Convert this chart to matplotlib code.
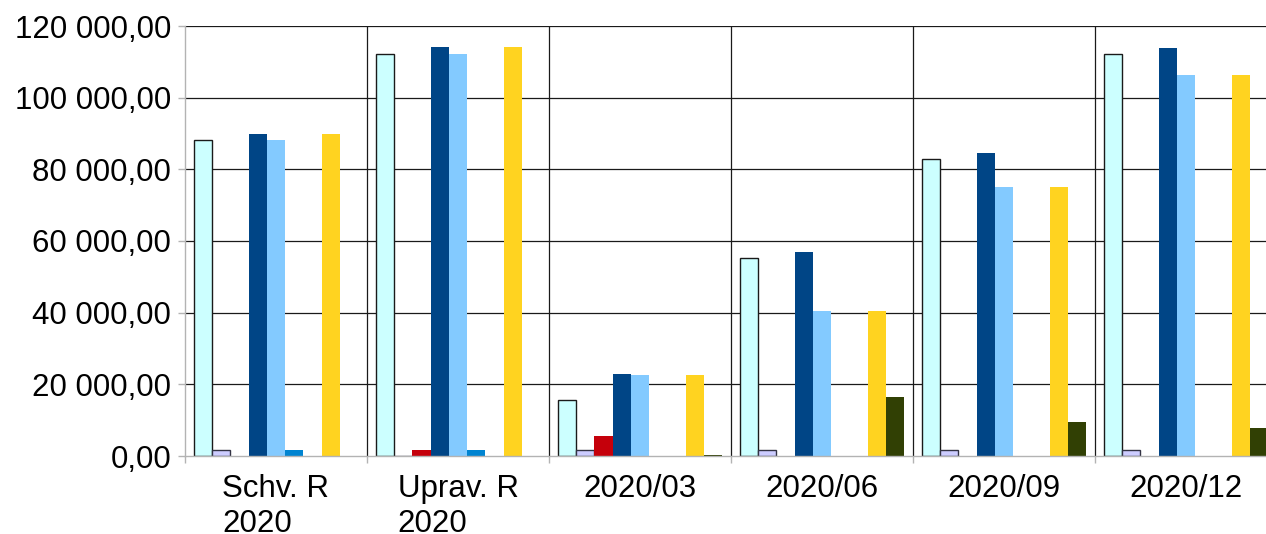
import numpy as np
import matplotlib.pyplot as plt
from matplotlib.ticker import FuncFormatter

plt.rcParams['font.family'] = ['Liberation Sans', 'DejaVu Sans']

# Données
kategorie = ["Schv. R\n2020", "Uprav. R\n2020", "2020/03", "2020/06", "2020/09", "2020/12"]

rada1 = [88200, 112200, 15600, 55300, 82800, 112200]   # tyrkysová (s okrajem)
rada2 = [1700, 0, 1700, 1700, 1700, 1700]               # levandulová
rada3 = [0, 1700, 5600, 0, 0, 0]                        # červená
rada4 = [89900, 114100, 22900, 56900, 84600, 113900]    # tmavě modrá
rada5 = [88200, 112200, 22600, 40500, 75100, 106300]    # světle modrá
rada6 = [1700, 1700, 0, 0, 0, 0]                        # modrá
rada7 = [0, 0, 0, 0, 0, 0]                              # prázdná řada
rada8 = [89900, 114100, 22600, 40500, 75100, 106300]    # žlutá
rada9 = [0, 0, 300, 16500, 9500, 7800]                  # tmavě zelená

rady = [rada1, rada2, rada3, rada4, rada5, rada6, rada7, rada8, rada9]
barvy = ['#ccffff', '#ccccff', '#c5000b', '#004586', '#83caff',
         '#0084d1', '#ff950e', '#ffd320', '#314004']
okraje = ['#1a1a1a', '#333344', None, None, None, None, None, None, None]

fig = plt.figure(figsize=(12.66, 5.34), dpi=100)
ax = fig.add_axes([185 / 1266, 78 / 534, 1092 / 1266, 430 / 534])

x = np.arange(len(kategorie))
sirka = 0.1005
for i, (hodnoty, barva, okraj) in enumerate(zip(rady, barvy, okraje)):
    posun = (i - 4) * sirka
    if okraj:
        ax.bar(x + posun, hodnoty, sirka, color=barva, edgecolor=okraj,
               linewidth=1.0, zorder=3)
    else:
        ax.bar(x + posun, hodnoty, sirka, color=barva, linewidth=0, zorder=3)

ax.set_xlim(-0.5, len(kategorie) - 0.5)
ax.set_ylim(0, 120000)
ax.set_yticks(np.arange(0, 120001, 20000))

def format_cz(v, pos):
    return f"{v:,.2f}".replace(",", " ").replace(".", ",")

ax.yaxis.set_major_formatter(FuncFormatter(format_cz))

# mřížka
for y in np.arange(20000, 120001, 20000):
    ax.axhline(y, color='#1a1a1a', linewidth=0.9, zorder=1)
for xv in np.arange(0.5, len(kategorie) - 0.5, 1):
    ax.axvline(xv, color='#1a1a1a', linewidth=0.9, zorder=1)

ax.set_xticks(np.arange(-0.5, len(kategorie), 1))
ax.set_xticklabels([])
ax.set_xticks(x, minor=True)
ax.set_xticklabels(kategorie, minor=True, fontsize=22.5, ha='center',
                   multialignment='left', va='top', linespacing=1.22)
ax.tick_params(axis='x', which='minor', length=0, pad=13)
ax.tick_params(axis='x', which='major', length=5, color='#b3b3b3', width=1)
ax.tick_params(axis='y', length=5, color='#b3b3b3', width=1, labelsize=22.5, pad=5)

for s in ['top', 'right']:
    ax.spines[s].set_visible(False)
for s in ['left', 'bottom']:
    ax.spines[s].set_color('#b3b3b3')
    ax.spines[s].set_linewidth(1.0)
    ax.spines[s].set_zorder(4)

fig.savefig('out.png', dpi=100)
